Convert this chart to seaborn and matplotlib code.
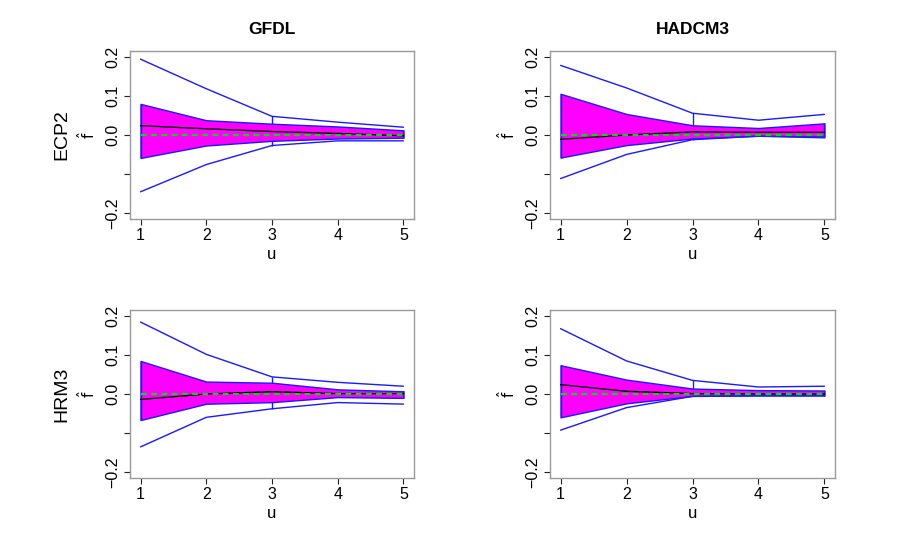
import numpy as np
import pandas as pd
import matplotlib
matplotlib.use("Agg")
import matplotlib.pyplot as plt
import seaborn as sns

# ---- data ----
u = [1, 2, 3, 4, 5]
models = ["GFDL", "HADCM3"]
scenarios = ["ECP2", "HRM3"]

# GFDL / ECP2
gfdl_ecp2_outer_hi = [0.195, 0.119, 0.048, 0.033, 0.020]
gfdl_ecp2_outer_lo = [-0.146, -0.076, -0.027, -0.015, -0.015]
gfdl_ecp2_band_hi = [0.080, 0.038, 0.029, 0.022, 0.012]
gfdl_ecp2_band_lo = [-0.059, -0.027, -0.015, -0.009, -0.007]
gfdl_ecp2_est = [0.024, 0.016, 0.009, 0.004, -0.002]

# HADCM3 / ECP2
hadcm3_ecp2_outer_hi = [0.179, 0.121, 0.056, 0.038, 0.053]
hadcm3_ecp2_outer_lo = [-0.112, -0.050, -0.012, -0.003, -0.005]
hadcm3_ecp2_band_hi = [0.106, 0.054, 0.025, 0.018, 0.030]
hadcm3_ecp2_band_lo = [-0.058, -0.026, -0.009, -0.002, -0.006]
hadcm3_ecp2_est = [-0.011, 0.000, 0.008, 0.007, 0.007]

# GFDL / HRM3
gfdl_hrm3_outer_hi = [0.185, 0.102, 0.044, 0.030, 0.020]
gfdl_hrm3_outer_lo = [-0.136, -0.060, -0.038, -0.022, -0.026]
gfdl_hrm3_band_hi = [0.085, 0.032, 0.029, 0.012, 0.007]
gfdl_hrm3_band_lo = [-0.067, -0.025, -0.021, -0.008, -0.010]
gfdl_hrm3_est = [-0.014, 0.000, 0.006, 0.001, 0.001]

# HADCM3 / HRM3
hadcm3_hrm3_outer_hi = [0.168, 0.085, 0.035, 0.018, 0.020]
hadcm3_hrm3_outer_lo = [-0.093, -0.035, -0.006, -0.004, -0.004]
hadcm3_hrm3_band_hi = [0.074, 0.037, 0.014, 0.010, 0.009]
hadcm3_hrm3_band_lo = [-0.060, -0.024, -0.005, -0.004, -0.004]
hadcm3_hrm3_est = [0.024, 0.007, 0.001, 0.000, 0.000]

reference = [0, 0, 0, 0, 0]

y_ticks = [-0.2, -0.1, 0.0, 0.1, 0.2]
y_tick_labels = ["\u22120.2", "", "0.0", "0.1", "0.2"]
x_ticks = [1, 2, 3, 4, 5]

panels = {
    ("ECP2", "GFDL"): (gfdl_ecp2_outer_hi, gfdl_ecp2_outer_lo, gfdl_ecp2_band_hi, gfdl_ecp2_band_lo, gfdl_ecp2_est),
    ("ECP2", "HADCM3"): (hadcm3_ecp2_outer_hi, hadcm3_ecp2_outer_lo, hadcm3_ecp2_band_hi, hadcm3_ecp2_band_lo, hadcm3_ecp2_est),
    ("HRM3", "GFDL"): (gfdl_hrm3_outer_hi, gfdl_hrm3_outer_lo, gfdl_hrm3_band_hi, gfdl_hrm3_band_lo, gfdl_hrm3_est),
    ("HRM3", "HADCM3"): (hadcm3_hrm3_outer_hi, hadcm3_hrm3_outer_lo, hadcm3_hrm3_band_hi, hadcm3_hrm3_band_lo, hadcm3_hrm3_est),
}

# ---- style ----
sns.set_theme(style="white")
plt.rcParams["font.family"] = ["Liberation Sans", "DejaVu Sans"]
plt.rcParams["text.color"] = "black"
plt.rcParams["axes.labelcolor"] = "black"
plt.rcParams["mathtext.fontset"] = "dejavusans"

fig = plt.figure(figsize=(9, 5.4), dpi=100)

W, H = 900.0, 540.0
lefts = [130, 550]
widths = [284, 285]
tops = [51, 310]
height = 168

blue = "#1a1aff"
for r, scen in enumerate(scenarios):
    for c, mod in enumerate(models):
        l = lefts[c] / W
        b = (H - tops[r] - height) / H
        ax = fig.add_axes([l, b, widths[c] / W, height / H])
        ohi, olo, bhi, blo, est = panels[(scen, mod)]

        ax.fill_between(u, blo, bhi, facecolor="#ff00ff", edgecolor=blue, linewidth=1.0, zorder=1)
        ax.vlines(u[0], blo[0], bhi[0], color=blue, lw=1.0, zorder=2)
        ax.vlines(u[-1], blo[-1], bhi[-1], color=blue, lw=1.0, zorder=2)
        sns.lineplot(x=u, y=ohi, ax=ax, color=blue, lw=1.0, zorder=2)
        sns.lineplot(x=u, y=olo, ax=ax, color=blue, lw=1.0, zorder=2)
        ax.vlines(u[2], bhi[2], ohi[2], color=blue, lw=1.0, zorder=2)
        ax.vlines(u[2], olo[2], blo[2], color=blue, lw=1.0, zorder=2)
        sns.lineplot(x=u, y=est, ax=ax, color="black", lw=1.0, zorder=3)
        sns.lineplot(x=u, y=reference, ax=ax, color="#00dd00", lw=1.6,
                     linestyle=(0, (2.6, 2.0)), zorder=4)

        ax.set_xlim(0.84, 5.16)
        ax.set_ylim(-0.216, 0.216)
        ax.set_xticks(x_ticks)
        ax.set_xticklabels([str(t) for t in x_ticks], fontsize=11.5)
        ax.set_yticks(y_ticks)
        ax.set_yticklabels(y_tick_labels, fontsize=11.5, rotation=90, va="center")
        ax.tick_params(axis="both", direction="out", length=4, width=0.8,
                       color="#222222", labelcolor="black",
                       bottom=True, left=True, top=False, right=False)
        ax.tick_params(axis="x", pad=2.5)
        ax.tick_params(axis="y", pad=3.0)
        for sp in ax.spines.values():
            sp.set_color("#9a9a9a")
            sp.set_linewidth(1.0)
        ax.set_xlabel("u", fontsize=12, labelpad=3)
        ax.set_ylabel(r"$\hat{\mathrm{f}}$", fontsize=10.5, labelpad=5)
        ax.grid(False)

        if r == 0:
            ax.set_title(mod, fontsize=12.5, fontweight="bold", pad=12)
        if c == 0:
            yc = (H - tops[r] - height / 2) / H
            fig.text(62 / W, yc, scen, rotation=90, fontsize=14,
                     ha="center", va="center")

fig.savefig("out.png", dpi=100)
